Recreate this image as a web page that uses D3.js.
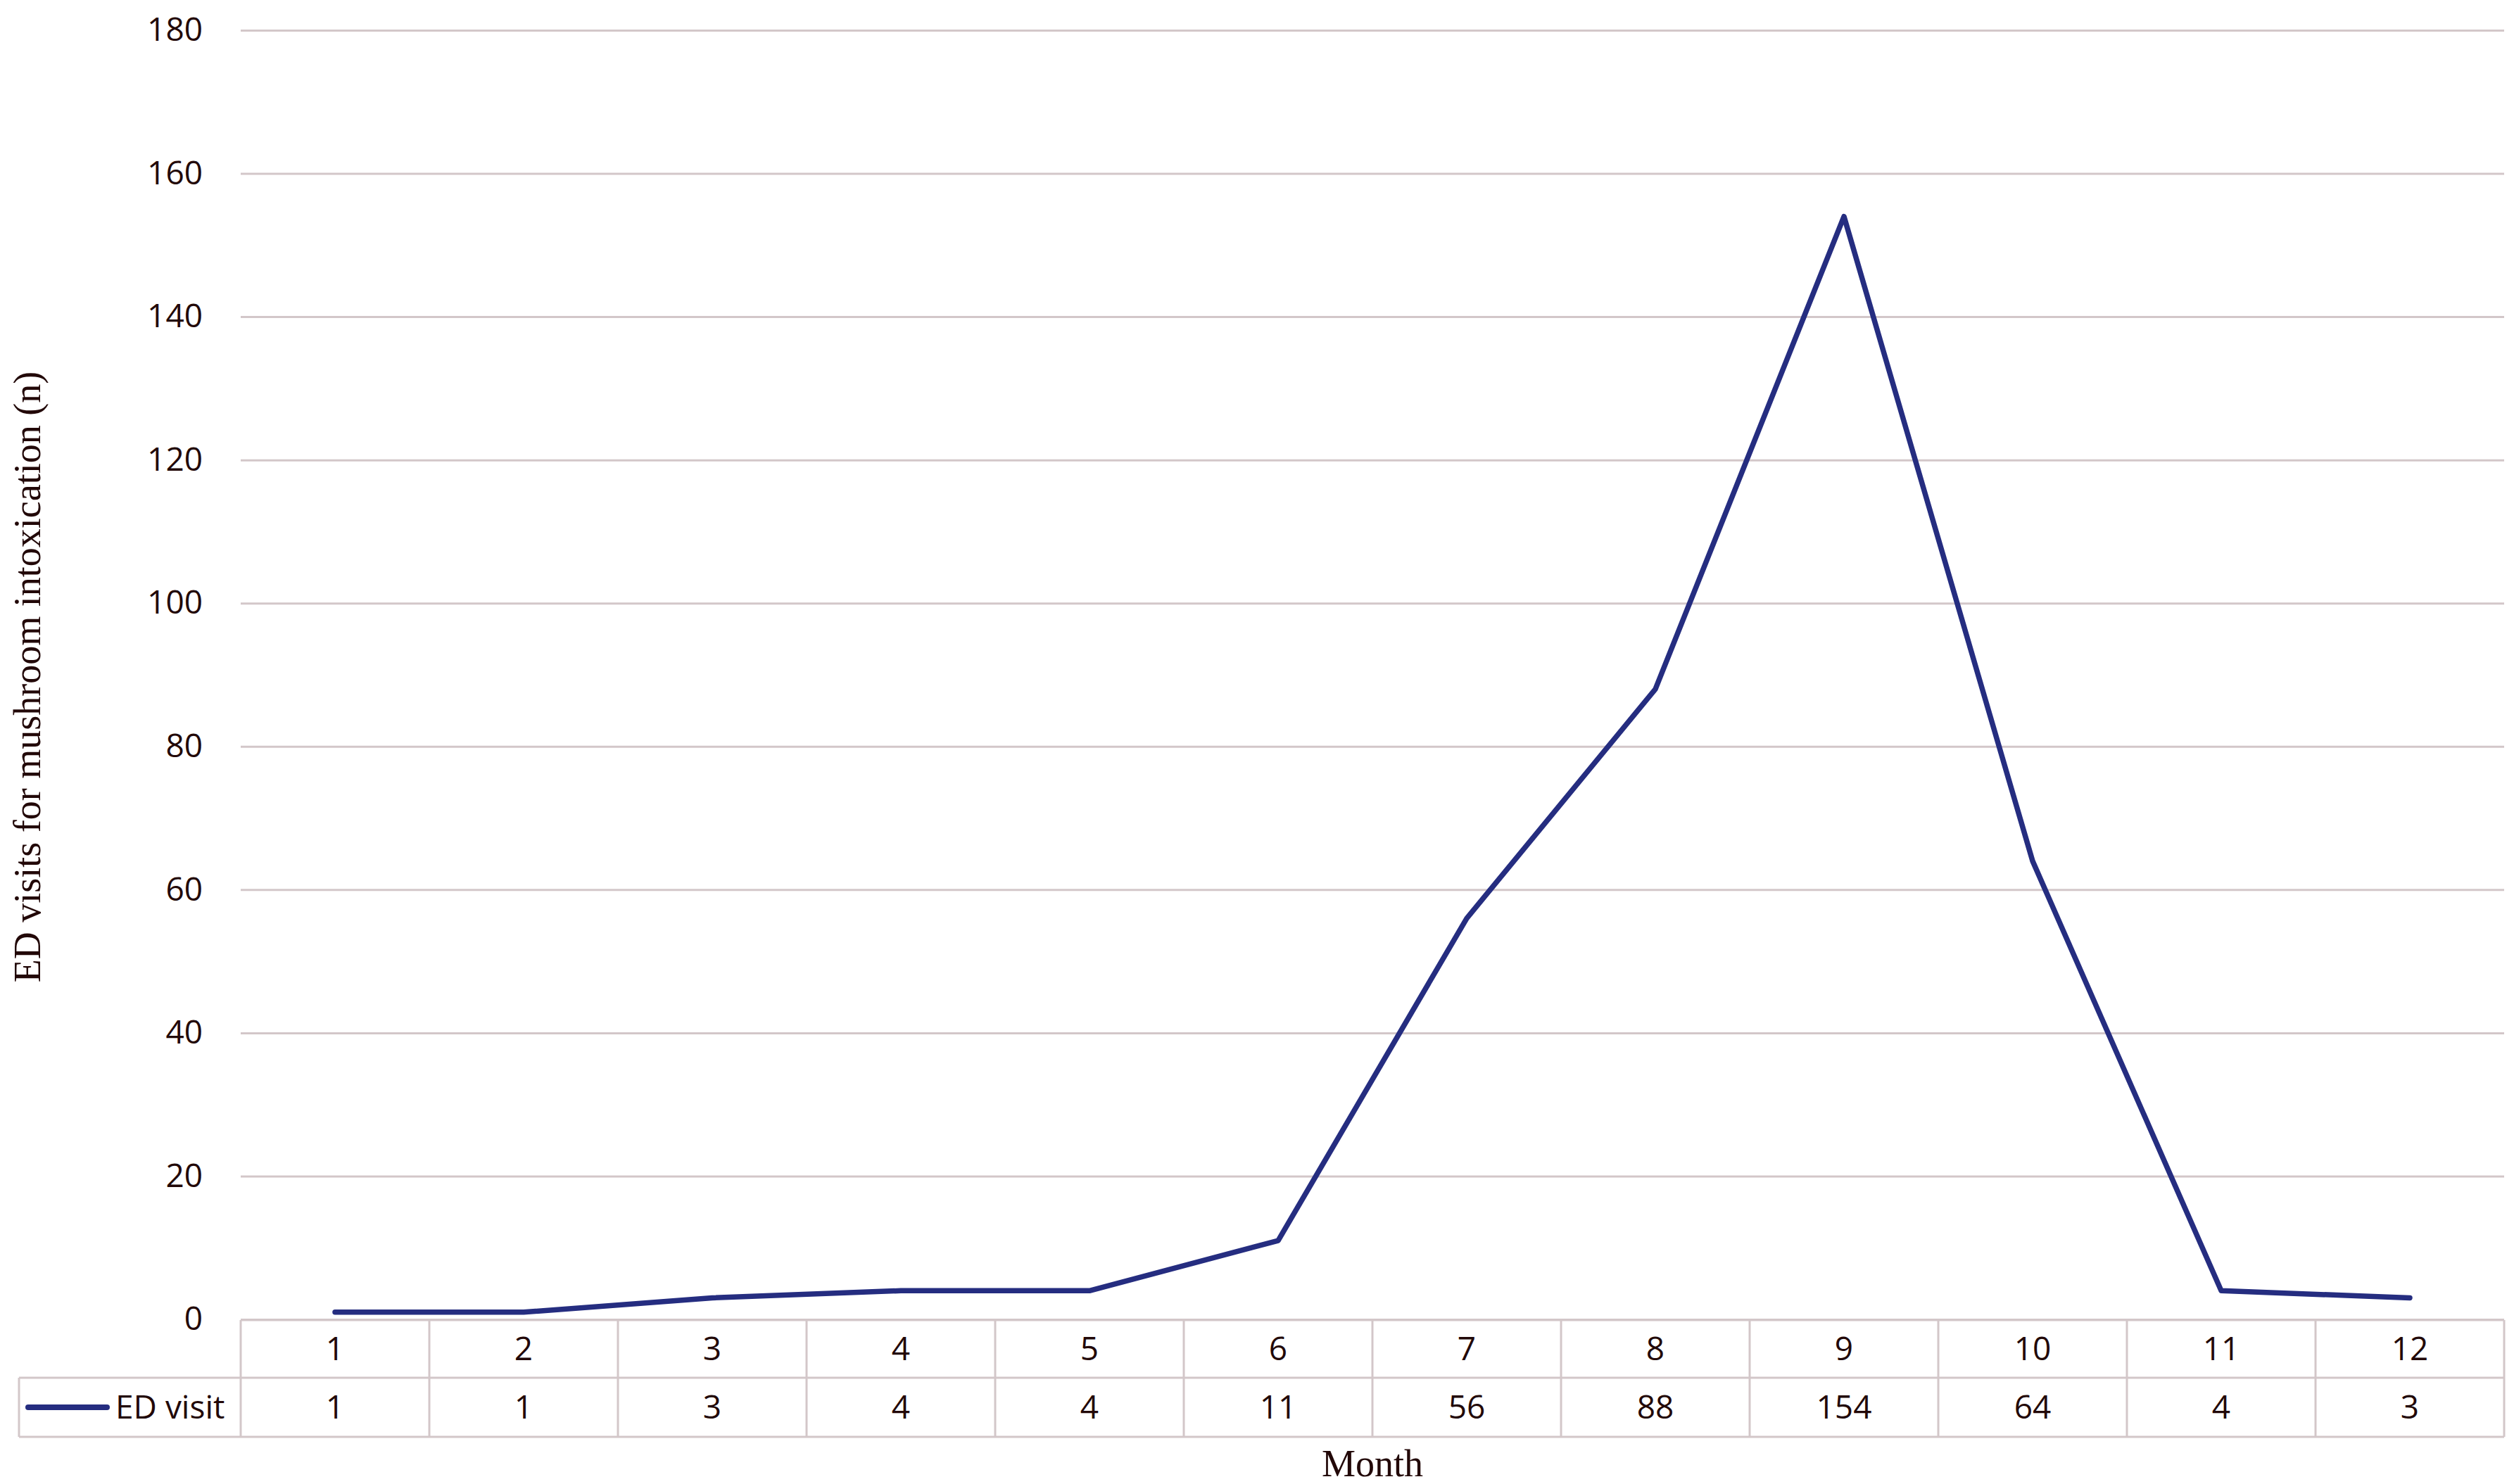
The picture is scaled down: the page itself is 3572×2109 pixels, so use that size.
<!DOCTYPE html>
<html>
<head>
<meta charset="utf-8">
<script src="https://cdn.jsdelivr.net/npm/d3@7"></script>
<style>
  body { margin: 0; background: #fff; }
  svg { display: block; }
</style>
</head>
<body>
<div id="chart"></div>
<script>
// data
const months = ["1", "2", "3", "4", "5", "6", "7", "8", "9", "10", "11", "12"];
const edVisits = [1, 1, 3, 4, 4, 11, 56, 88, 154, 64, 4, 3];
const yTicks = [0, 20, 40, 60, 80, 100, 120, 140, 160, 180];
const seriesName = "ED visit";

const W = 3572, H = 2109;
const plotLeft = 342, plotRight = 3558, plotTop = 43, plotBottom = 1875;
const row1 = 1876, row2 = 1958, row3 = 2042, legendLeft = 27;
const textColor = "#220808", gridColor = "#d3c7c9", lineColor = "#252d80";
const sans = "'Open Sans', 'Noto Sans', sans-serif";
const serif = "'Liberation Serif', 'DejaVu Serif', serif";

const svg = d3.select("#chart").append("svg")
  .attr("width", W).attr("height", H);
svg.append("rect").attr("width", W).attr("height", H).attr("fill", "#fff");

const x = d3.scaleBand().domain(months).range([plotLeft, plotRight]);
const y = d3.scaleLinear().domain([0, 180]).range([plotBottom, plotTop]);

// gridlines + y labels
const yAxis = svg.append("g")
  .attr("transform", `translate(${plotLeft},0)`)
  .call(d3.axisLeft(y).tickValues(yTicks).tickSize(-(plotRight - plotLeft)).tickPadding(54));
yAxis.select(".domain").remove();
yAxis.selectAll(".tick line").attr("stroke", gridColor).attr("stroke-width", 3);
yAxis.selectAll(".tick text")
  .attr("fill", textColor)
  .style("font-family", sans)
  .style("font-size", "46px");

// data table under the plot
const table = svg.append("g").attr("stroke", gridColor).attr("stroke-width", 3).attr("fill", "none");
table.append("line").attr("x1", plotLeft).attr("x2", plotRight).attr("y1", row1).attr("y2", row1);
table.append("line").attr("x1", legendLeft).attr("x2", plotRight).attr("y1", row2).attr("y2", row2);
table.append("line").attr("x1", legendLeft).attr("x2", plotRight).attr("y1", row3).attr("y2", row3);
table.append("line").attr("x1", legendLeft).attr("x2", legendLeft).attr("y1", row2).attr("y2", row3);
table.selectAll(".col").data(months).enter().append("line")
  .attr("x1", d => x(d)).attr("x2", d => x(d))
  .attr("y1", row1).attr("y2", row3);
table.append("line").attr("x1", plotRight).attr("x2", plotRight).attr("y1", row1).attr("y2", row3);

svg.append("g").selectAll("text").data(months).enter().append("text")
  .attr("x", d => x(d) + x.bandwidth() / 2)
  .attr("y", (row1 + row2) / 2)
  .attr("dy", "0.35em")
  .attr("text-anchor", "middle")
  .attr("fill", textColor)
  .style("font-family", sans).style("font-size", "46px")
  .text(d => d);

svg.append("g").selectAll("text").data(edVisits).enter().append("text")
  .attr("x", (d, i) => x(months[i]) + x.bandwidth() / 2)
  .attr("y", (row2 + row3) / 2)
  .attr("dy", "0.35em")
  .attr("text-anchor", "middle")
  .attr("fill", textColor)
  .style("font-family", sans).style("font-size", "46px")
  .text(d => d);

// legend key in table
svg.append("line")
  .attr("x1", 40).attr("x2", 152)
  .attr("y1", (row2 + row3) / 2).attr("y2", (row2 + row3) / 2)
  .attr("stroke", lineColor).attr("stroke-width", 8).attr("stroke-linecap", "round");
svg.append("text")
  .attr("x", 164).attr("y", (row2 + row3) / 2).attr("dy", "0.35em")
  .attr("fill", textColor)
  .style("font-family", sans).style("font-size", "46px")
  .text(seriesName);

// the series line
const line = d3.line()
  .x((d, i) => x(months[i]) + x.bandwidth() / 2)
  .y(d => y(d));
svg.append("path")
  .datum(edVisits)
  .attr("d", line)
  .attr("fill", "none")
  .attr("stroke", lineColor)
  .attr("stroke-width", 7.5)
  .attr("stroke-linejoin", "round")
  .attr("stroke-linecap", "round");

// axis titles
svg.append("text")
  .attr("x", (plotLeft + plotRight) / 2).attr("y", 2098)
  .attr("text-anchor", "middle")
  .attr("fill", textColor)
  .style("font-family", serif).style("font-size", "54px")
  .text("Month");

svg.append("text")
  .attr("transform", "translate(57,962) rotate(-90)")
  .attr("text-anchor", "middle")
  .attr("fill", textColor)
  .style("font-family", serif).style("font-size", "54px")
  .text("ED visits for mushroom intoxication (n)");
</script>
</body>
</html>
